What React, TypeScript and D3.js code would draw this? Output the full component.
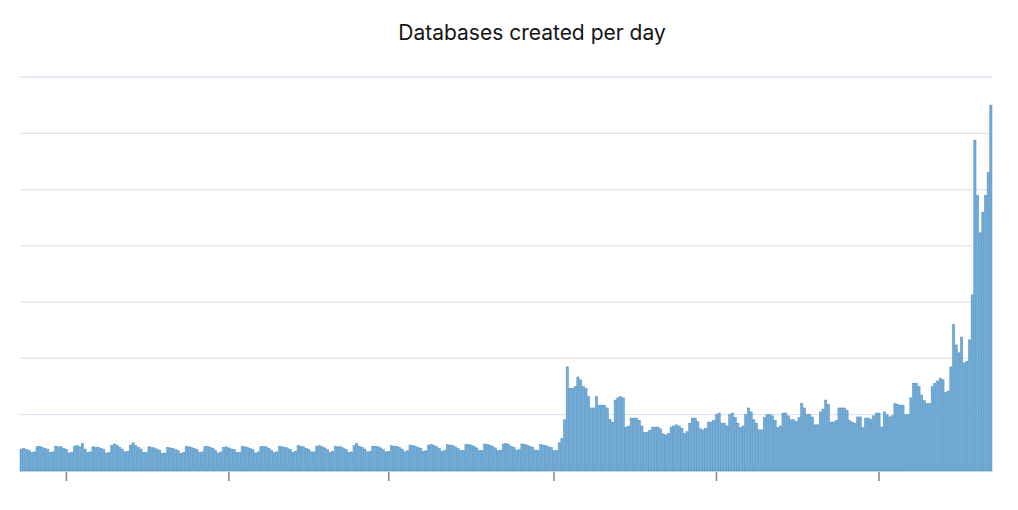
import * as d3 from 'd3';

const title = 'Databases created per day';

// one bar per day, starting here
const firstDay = '2023-10-15';

// x axis tick marks (no labels in the picture)
const tickDays = ['2023-11-01', '2024-01-01', '2024-03-01', '2024-05-02', '2024-07-02', '2024-09-01'];

// horizontal grid lines
const gridValues = [0, 100, 200, 300, 400, 500, 600, 700];

// daily counts
const steadyCounts = [
  39, 40, 38, 37, 33, 34,
  43, 44, 42, 40, 38, 33, 34,
  44, 43, 43, 40, 38, 32, 33,
  44, 45, 43, 49, 39, 33, 34,
  43, 42, 42, 40, 38, 32, 33,
  45, 48, 46, 42, 39, 34, 35,
  46, 50, 45, 42, 39, 33, 33,
  43, 42, 41, 39, 37, 31, 32,
  42, 41, 40, 38, 36, 31, 33,
  44, 43, 42, 40, 38, 33, 34,
  43, 44, 42, 40, 37, 32, 34,
  42, 43, 41, 39, 38, 33, 33,
  44, 43, 42, 40, 38, 32, 34,
  43, 44, 43, 40, 37, 33, 34,
  44, 43, 42, 41, 38, 33, 35,
  45, 44, 43, 40, 38, 34, 34,
  44, 45, 43, 41, 38, 33, 35,
  44, 43, 43, 41, 38, 33, 34,
  45, 49, 44, 42, 39, 34, 35,
  44, 44, 43, 41, 38, 34, 35,
  45, 44, 44, 42, 39, 34, 36,
  46, 45, 44, 42, 40, 35, 36,
  46, 47, 45, 43, 40, 35, 36,
  47, 46, 45, 43, 40, 36, 37,
  47, 47, 46, 44, 41, 36, 37,
  48, 47, 46, 44, 41, 36, 37,
  48, 49, 47, 44, 42, 37, 38,
  48, 47, 46, 44, 42, 37, 37,
  47, 46, 45, 43, 42, 36, 36,
];

const jumpCounts = [
  50, 58, 91, 185,
  147, 147, 150, 167, 162, 150, 147, 132, 112, 112,
  132, 117, 117, 117, 112, 92, 87, 126, 130, 132,
  130, 78, 80, 94, 94, 94, 90, 80, 69, 69,
  72, 78, 78, 78, 75, 66, 64, 67, 78, 80,
  82, 80, 76, 67, 70, 85, 94, 94, 88, 75,
  73, 76, 87, 87, 90, 100, 103, 85, 85, 80,
];

const growthCounts = [
  100, 103, 95, 85, 77, 80, 100, 112, 105, 91,
  85, 73, 73, 95, 100, 100, 98, 90, 77, 80,
  103, 103, 98, 91, 91, 88, 95, 120, 112, 100,
  100, 96, 82, 82, 105, 110, 126, 118, 87, 87,
  90, 112, 112, 112, 108, 90, 87, 85, 96, 96,
  77, 94, 94, 92, 98, 103, 103, 78, 105, 100,
  96, 98, 120, 118, 117, 117, 100, 100, 130, 156,
  156, 150, 135, 125, 120, 120, 150, 156, 160, 165,
  162, 140, 142, 185, 260, 224, 210, 238, 192, 195,
  233, 313, 588, 490, 423, 460, 490, 530, 650,
];

const counts = [...steadyCounts, ...jumpCounts, ...growthCounts];

const W = 1018;
const H = 510;
const left = 20;
const right = 992;
const top = 77;
const bottom = 471;

const parse = d3.utcParse('%Y-%m-%d');
const fmt = d3.utcFormat('%Y-%m-%d');

export default function App() {
  const start = parse(firstDay) as Date;
  const days = d3.utcDay.range(start, d3.utcDay.offset(start, counts.length)).map(fmt);
  const data = days.map((day, i) => ({ day, value: counts[i] }));

  const x = d3.scaleBand<string>().domain(days).range([left, right]).paddingInner(0.16);
  const y = d3.scaleLinear().domain([0, 700]).range([bottom, top]);

  return (
    <div style={{ position: 'absolute', left: 0, top: 0 }}>
      <svg width={W} height={H} style={{ display: 'block', background: '#fff' }}>
        <text
          x={532}
          y={40}
          textAnchor='middle'
          fontFamily='Inter, "Noto Sans", sans-serif'
          fontSize={21}
          fill='#141414'
        >
          {title}
        </text>
        {gridValues.map((v) => (
          <line key={v} x1={left} x2={right} y1={y(v)} y2={y(v)} stroke='#dfe3ef' strokeWidth={1.3} />
        ))}
        {data.map((d) => (
          <rect
            key={d.day}
            x={x(d.day)}
            y={y(d.value)}
            width={x.bandwidth()}
            height={bottom - y(d.value)}
            fill='#74aed8'
            stroke='#4d8cbd'
            strokeWidth={0.5}
          />
        ))}
        {tickDays.map((t) => {
          const tx = (x(t) ?? 0) + x.bandwidth() / 2;
          return <line key={t} x1={tx} x2={tx} y1={bottom + 1} y2={bottom + 10} stroke='#8a8a8a' strokeWidth={1.6} />;
        })}
      </svg>
    </div>
  );
}
